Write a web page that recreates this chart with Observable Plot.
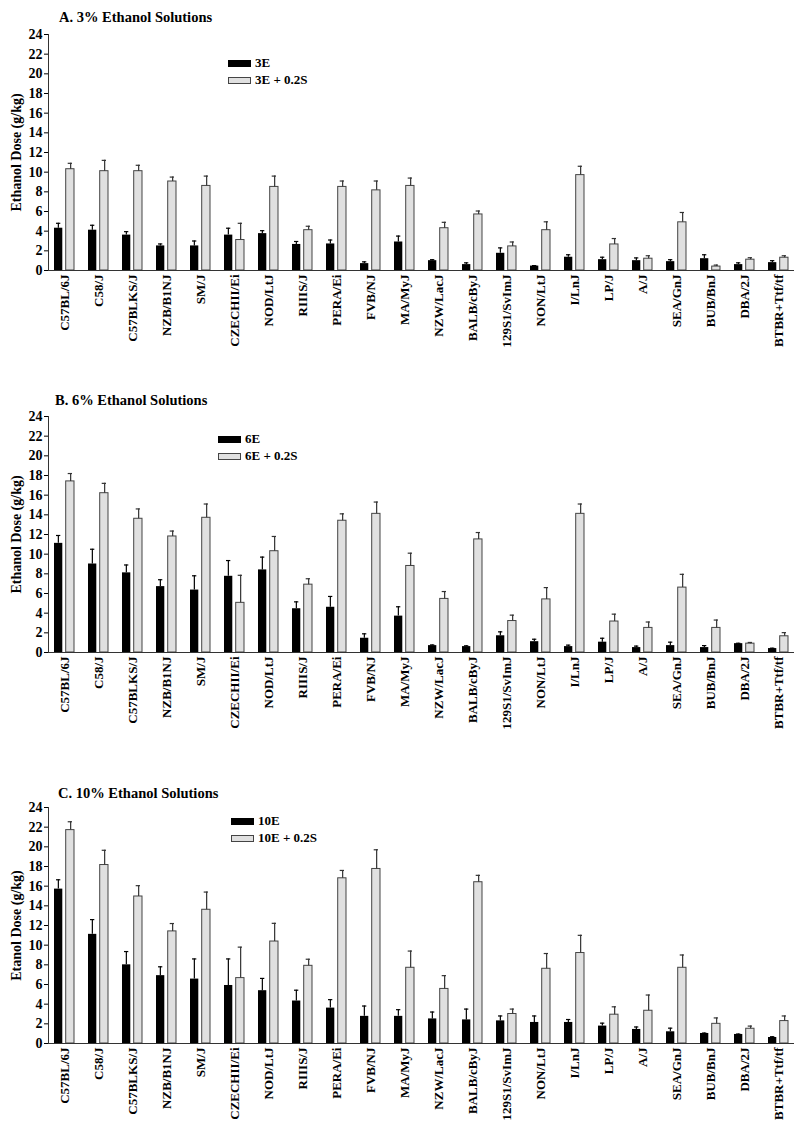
<!DOCTYPE html>
<html>
<head>
<meta charset="utf-8">
<script src="https://cdn.jsdelivr.net/npm/d3@7"></script>
<script src="https://cdn.jsdelivr.net/npm/@observablehq/plot@0.6"></script>
<style>
  body { margin: 0; background: #fff; }
  #root { position: relative; width: 800px; height: 1125px; font-family: "Liberation Serif", "Times New Roman", serif; font-weight: bold; color: #000; }
  .panel { position: absolute; left: 0; }
  .title { position: absolute; font-size: 14.5px; line-height: 15px; white-space: nowrap; }
  .leg { position: absolute; font-size: 13px; line-height: 10px; white-space: nowrap; display: flex; align-items: center; }
  .sw { display: inline-block; width: 23px; height: 7px; margin-right: 4px; box-sizing: border-box; }
</style>
</head>
<body>
<div id="root"></div>
<script>
const strains = ["C57BL/6J","C58/J","C57BLKS/J","NZB/B1NJ","SM/J","CZECHII/Ei","NOD/LtJ","RIIIS/J","PERA/Ei","FVB/NJ","MA/MyJ","NZW/LacJ","BALB/cByJ","129S1/SvImJ","NON/LtJ","I/LnJ","LP/J","A/J","SEA/GnJ","BUB/BnJ","DBA/2J","BTBR+Ttf/tf"];
const yTicks = [0,2,4,6,8,10,12,14,16,18,20,22,24];

// Panel A: 3% ethanol
const aSeries = ["3E", "3E + 0.2S"];
const aE    = [4.3,4.1,3.6,2.5,2.5,3.6,3.75,2.65,2.7,0.7,2.9,1.0,0.6,1.75,0.45,1.35,1.1,1.0,0.9,1.2,0.6,0.8];
const aESem = [0.5,0.5,0.35,0.2,0.5,0.7,0.3,0.3,0.4,0.18,0.6,0.1,0.18,0.55,0.05,0.25,0.25,0.28,0.2,0.4,0.18,0.2];
const aS    = [10.3,10.1,10.1,9.05,8.6,3.1,8.5,4.1,8.5,8.15,8.6,4.3,5.7,2.45,4.1,9.7,2.65,1.2,4.9,0.4,1.1,1.3];
const aSSem = [0.6,1.1,0.6,0.45,1.0,1.7,1.1,0.4,0.6,0.95,0.8,0.6,0.35,0.45,0.85,0.9,0.6,0.3,1.0,0.15,0.2,0.2];

// Panel B: 6% ethanol
const bSeries = ["6E", "6E + 0.2S"];
const bE    = [11.1,9.0,8.1,6.7,6.35,7.75,8.4,4.45,4.6,1.45,3.7,0.7,0.6,1.7,1.1,0.6,1.05,0.5,0.7,0.5,0.9,0.4];
const bESem = [0.8,1.5,0.8,0.7,1.45,1.6,1.3,0.7,1.1,0.45,0.95,0.07,0.08,0.4,0.25,0.15,0.4,0.15,0.35,0.2,0.04,0.04];
const bS    = [17.4,16.2,13.6,11.8,13.7,5.05,10.3,6.9,13.4,14.1,8.8,5.45,11.5,3.2,5.4,14.1,3.15,2.5,6.6,2.5,0.9,1.65];
const bSSem = [0.8,1.0,1.0,0.55,1.4,2.8,1.5,0.6,0.7,1.2,1.3,0.75,0.7,0.6,1.2,1.0,0.75,0.6,1.35,0.8,0.12,0.37];

// Panel C: 10% ethanol
const cSeries = ["10E", "10E + 0.2S"];
const cE    = [15.7,11.1,8.0,6.9,6.55,5.9,5.37,4.32,3.6,2.76,2.76,2.5,2.4,2.3,2.14,2.14,1.77,1.43,1.19,1.02,0.92,0.61];
const cESem = [0.95,1.5,1.35,0.9,2.05,2.7,1.25,1.1,0.86,1.05,0.68,0.7,1.1,0.5,0.66,0.3,0.3,0.25,0.37,0.04,0.04,0.08];
const cS    = [21.7,18.15,14.95,11.4,13.6,6.65,10.37,7.9,16.8,17.75,7.7,5.55,16.4,3.0,7.6,9.2,2.93,3.33,7.7,2.0,1.5,2.28];
const cSSem = [0.85,1.5,1.1,0.8,1.8,3.15,1.85,0.67,0.8,1.95,1.7,1.35,0.7,0.5,1.55,1.8,0.8,1.6,1.3,0.6,0.27,0.52];

const panels = [
  {title: "A. 3% Ethanol Solutions", ylabel: "Ethanol Dose (g/kg)", series: aSeries, e: aE, eSem: aESem, s: aS, sSem: aSSem,
   top: 24, titlePos: [59, 10], legPos: [228, 59]},
  {title: "B. 6% Ethanol Solutions", ylabel: "Ethanol Dose (g/kg)", series: bSeries, e: bE, eSem: bESem, s: bS, sSem: bSSem,
   top: 406, titlePos: [55, 393], legPos: [218, 435]},
  {title: "C. 10% Ethanol Solutions", ylabel: "Etanol Dose (g/kg)", series: cSeries, e: cE, eSem: cESem, s: cS, sSem: cSSem,
   top: 797, titlePos: [58, 786], legPos: [231, 817]}
];

const root = document.getElementById("root");
const GRAY = "#e0e0e0";
const BAR_IN = 11.7; // inset giving each of the two bars ~8px within the strain band
const CAP_IN = 2;

function makePlot(p) {
  const eRows = strains.map((k, i) => ({strain: k, v: p.e[i], hi: p.e[i] + p.eSem[i]}));
  const sRows = strains.map((k, i) => ({strain: k, v: p.s[i], hi: p.s[i] + p.sSem[i]}));
  return Plot.plot({
    width: 800,
    height: 326,
    marginTop: 10,
    marginBottom: 80,
    marginLeft: 48,
    marginRight: 6,
    style: {fontFamily: "Liberation Serif, Times New Roman, serif", fontWeight: "bold", background: "white", color: "black"},
    x: {domain: strains, paddingInner: 0.416, paddingOuter: 0.108},
    y: {domain: [0, 24]},
    marks: [
      Plot.axisY({ticks: yTicks, tickSize: 4, tickPadding: 2, fontSize: 14, label: p.ylabel, labelAnchor: "center", labelArrow: "none", labelOffset: 37}),
      Plot.axisX({tickSize: 0, tickRotate: -90, tickPadding: 4, fontSize: 13, label: null}),
      Plot.barY(eRows, {x: "strain", y: "v", fill: "black", insetLeft: 0, insetRight: BAR_IN}),
      Plot.barY(sRows, {x: "strain", y: "v", fill: GRAY, stroke: "#444", strokeWidth: 1, insetLeft: BAR_IN, insetRight: 0}),
      Plot.ruleX(eRows, {x: "strain", y1: "v", y2: "hi", dx: -(BAR_IN + 0.3) / 2 - 0.15, stroke: "black", strokeWidth: 1.2}),
      Plot.tickY(eRows, {x: "strain", y: "hi", stroke: "black", strokeWidth: 1.2, insetLeft: CAP_IN, insetRight: BAR_IN + CAP_IN}),
      Plot.ruleX(sRows, {x: "strain", y1: "v", y2: "hi", dx: (BAR_IN + 0.3) / 2 + 0.15, stroke: "#333", strokeWidth: 1.2}),
      Plot.tickY(sRows, {x: "strain", y: "hi", stroke: "#333", strokeWidth: 1.2, insetLeft: BAR_IN + CAP_IN, insetRight: CAP_IN}),
      Plot.frame({anchor: "left", stroke: "#333"}),
      Plot.ruleY([0], {stroke: "#333"})
    ]
  });
}

for (const p of panels) {
  const wrap = document.createElement("div");
  wrap.className = "panel";
  wrap.style.top = p.top + "px";
  wrap.appendChild(makePlot(p));
  root.appendChild(wrap);

  const t = document.createElement("div");
  t.className = "title";
  t.style.left = p.titlePos[0] + "px";
  t.style.top = p.titlePos[1] + "px";
  t.textContent = p.title;
  root.appendChild(t);

  p.series.forEach((name, j) => {
    const l = document.createElement("div");
    l.className = "leg";
    l.style.left = p.legPos[0] + "px";
    l.style.top = (p.legPos[1] - 1 + j * 17) + "px";
    const sw = document.createElement("span");
    sw.className = "sw";
    sw.style.background = j === 0 ? "black" : GRAY;
    sw.style.border = j === 0 ? "none" : "1px solid #444";
    l.appendChild(sw);
    const tx = document.createElement("span");
    tx.textContent = name;
    l.appendChild(tx);
    root.appendChild(l);
  });
}
</script>
</body>
</html>
